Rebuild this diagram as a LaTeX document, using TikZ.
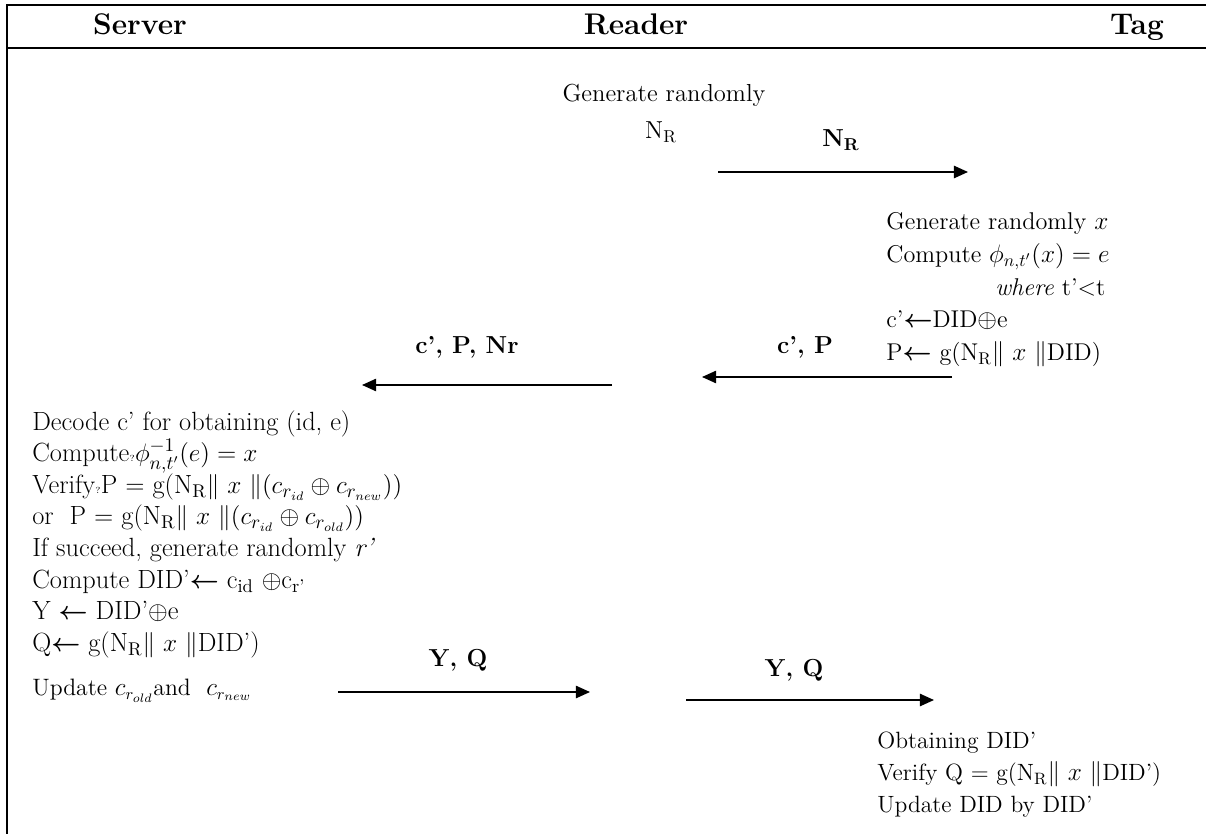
\documentclass[tikz,border=0pt]{standalone}
\usepackage{amsmath}
\usepackage{tikz}
\usetikzlibrary{positioning,arrows.meta}

\newcommand{\lar}{$\boldsymbol{\leftarrow}$}
\newcommand{\NR}{N\textsubscript{R}}

\begin{document}
\begin{tikzpicture}[x=0.02cm, y=-0.02cm,
  head/.style={font=\fontsize{17}{19}\selectfont\bfseries, inner sep=0pt, anchor=base},
  txt/.style={font=\fontsize{14}{16}\selectfont, inner sep=0pt},
  block/.style 2 args={anchor=north west, align=left, inner sep=0pt,
                       font=\fontsize{#1}{#2}\selectfont},
  lbl/.style={font=\fontsize{14}{16}\selectfont\bfseries, inner sep=0pt},
  msg/.style={-{Triangle[length=8pt,width=7pt]}, line width=0.9pt},
]
\useasboundingbox (0,0) rectangle (1206,834);

% frame and header
\draw[line width=1pt] (7,834) -- (7,5) -- (1206,5);
\draw[line width=1pt] (7,48) -- (1206,48);
\foreach \n/\x/\t in {srv/140/Server, rdr/636/Reader, tag/1137/Tag}
  \node[head] (\n) at (\x,35) {\t};

% reader: nonce
\node[txt] (gen) at (664,95) {Generate randomly};
\node[txt] (nr)  at (661,132) {\NR};

% tag: first step
\node[block={13.8}{18.7}] (tstep) at (886,212) {
    Generate randomly $x$\\
    Compute $\phi_{n,t'}(x) = e$\\
    \hspace*{62pt}\textit{where} t'<t\\
    c'\lar DID$\oplus$e\\
    P\lar\ g(\NR$\|$ $x$ $\|$DID)
};

% server: verification
\node[block={15}{18}] (sstep) at (32,410) {
    Decode c' for obtaining (id, e)\\
    Compute{\tiny ?}$\phi^{-1}_{n,t'}(e) = x$\\
    Verify{\tiny ?}P $=$ g(\NR$\|$ $x$ $\|(c_{r_{id}} \oplus c_{r_{new}}))$\\
    or\ \ P $=$ g(\NR$\|$ $x$ $\|(c_{r_{id}} \oplus c_{r_{old}}))$\\
    If succeed, generate randomly \textit{r'}\\
    Compute DID'\lar\ c\textsubscript{id} $\oplus$c\textsubscript{r'}\\
    Y \lar\ DID'$\oplus$e\\
    Q\lar\ g(\NR$\|$ $x$ $\|$DID')\\[7pt]
    {\fontsize{13.5}{18}\selectfont Update $c_{r_{old}}$and\ \ $c_{r_{new}}$}
};

% tag: last step
\node[block={13.4}{18.1}] (tend) at (877,732) {
    Obtaining DID'\\
    Verify Q = g(\NR$\|$ $x$ $\|$DID')\\
    Update DID by DID'
};

% messages
\coordinate (m1a) at (718,172);  \coordinate (m1b) at (968,172);
\coordinate (m2a) at (952,377);  \coordinate (m2b) at (702,377);
\coordinate (m3a) at (612,385);  \coordinate (m3b) at (362,385);
\coordinate (m4a) at (338,692);  \coordinate (m4b) at (590,692);
\coordinate (m5a) at (686,700);  \coordinate (m5b) at (934,700);

\draw[msg] (m1a) -- (m1b);
\draw[msg] (m2a) -- (m2b);
\draw[msg] (m3a) -- (m3b);
\draw[msg] (m4a) -- (m4b);
\draw[msg] (m5a) -- (m5b);

\node[lbl] (l1) at (841,140) {N\textsubscript{R}};
\node[lbl] (l2) at (805,347) {c', P};
\node[lbl] (l3) at (467,347) {c', P, Nr};
\node[lbl] (l4) at (458,660) {Y, Q};
\node[lbl] (l5) at (794,670) {Y, Q};

\end{tikzpicture}
\end{document}
